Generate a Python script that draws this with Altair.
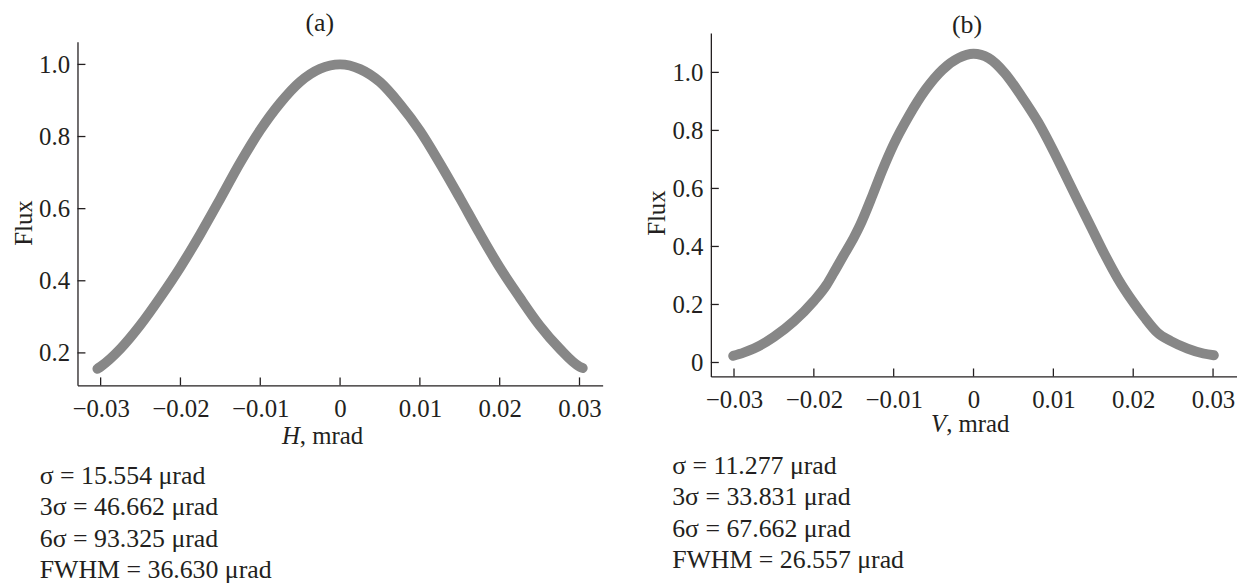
import altair as alt
import pandas as pd

FONT = "Liberation Serif"
INK = "#231f20"
CURVE = "#878787"

# ---------------- data ----------------
h_pos = [-0.0304, -0.0300, -0.0275, -0.0250, -0.0225, -0.0200, -0.0175, -0.0150,
         -0.0125, -0.0100, -0.0075, -0.0050, -0.0025, 0.0000, 0.0025, 0.0050,
         0.0075, 0.0100, 0.0125, 0.0150, 0.0175, 0.0200, 0.0225, 0.0250,
         0.0275, 0.0300, 0.0304]
h_flux = [0.156, 0.162, 0.212, 0.278, 0.355, 0.438, 0.530, 0.628,
          0.728, 0.818, 0.893, 0.952, 0.988, 1.000, 0.987, 0.951,
          0.890, 0.816, 0.726, 0.630, 0.531, 0.437, 0.354, 0.276,
          0.212, 0.162, 0.158]

v_pos = [-0.0301, -0.0288, -0.0275, -0.0250, -0.0225, -0.0200, -0.0184, -0.0175,
         -0.0163, -0.0150, -0.0143, -0.0126, -0.0114, -0.0100, -0.0081, -0.0060,
         -0.0039, -0.0019, 0.0000, 0.0019, 0.0039, 0.0060, 0.0081, 0.0100,
         0.0114, 0.0131, 0.0147, 0.0164, 0.0181, 0.0200, 0.0214, 0.0230,
         0.0247, 0.0268, 0.0288, 0.0301]
v_flux = [0.023, 0.034, 0.048, 0.088, 0.142, 0.212, 0.268, 0.310,
          0.368, 0.430, 0.468, 0.580, 0.664, 0.752, 0.850, 0.941,
          1.009, 1.049, 1.064, 1.049, 0.998, 0.918, 0.828, 0.730,
          0.652, 0.556, 0.468, 0.374, 0.288, 0.208, 0.156, 0.104,
          0.074, 0.048, 0.031, 0.025]

x_ticks = [-0.03, -0.02, -0.01, 0.0, 0.01, 0.02, 0.03]
y_ticks_a = [0.2, 0.4, 0.6, 0.8, 1.0]
y_ticks_b = [0.0, 0.2, 0.4, 0.6, 0.8, 1.0]

stats_a = ["σ = 15.554 μrad", "3σ = 46.662 μrad", "6σ = 93.325 μrad", "FWHM = 36.630 μrad"]
stats_b = ["σ = 11.277 μrad", "3σ = 33.831 μrad", "6σ = 67.662 μrad", "FWHM = 26.557 μrad"]


def panel(pos, flux, xdom, ydom, yrange, width, height, axis_y, yticks,
          title_x, title_y, panel_title, letter, junction, xt_base,
          stats, stats_x, stats_y):
    df = pd.DataFrame({"pos": pos, "flux": flux})
    one = pd.DataFrame({"k": [0]})

    x_enc = alt.X(
        "pos:Q",
        scale=alt.Scale(domain=xdom, nice=False, zero=False),
        axis=alt.Axis(values=x_ticks, format=".2~f", title=None, grid=False,
                      ticks=False, tickSize=0, labelFont=FONT, labelFontSize=25,
                      labelColor=INK, labelBaseline="alphabetic", labelPadding=31,
                      labelFlush=False, labelOverlap=False,
                      domainColor=INK, domainWidth=1.3),
    )
    yscale = dict(domain=ydom, nice=False, zero=False)
    if yrange is not None:
        yscale["range"] = yrange
    y_enc = alt.Y(
        "flux:Q",
        scale=alt.Scale(**yscale),
        axis=alt.Axis(values=yticks,
                      labelExpr="datum.value == 0 ? '0' : format(datum.value, '.1f')",
                      title="Flux", titleFont=FONT, titleFontSize=25,
                      titleFontWeight="normal", titleColor=INK, titleAngle=270,
                      titleX=title_x, titleY=title_y, titleBaseline="alphabetic",
                      titleAlign="center", grid=False, ticks=False, tickSize=0,
                      labelFont=FONT, labelFontSize=25, labelColor=INK,
                      labelPadding=8, labelAlign="right", labelBaseline="middle",
                      labelOverlap=False, labelFlush=False,
                      domainColor=INK, domainWidth=1.3),
    )

    curve = alt.Chart(df).mark_line(
        color=CURVE, strokeWidth=10, strokeCap="round", strokeJoin="round",
        interpolate="monotone",
    ).encode(x=x_enc, y=y_enc)

    xt = alt.Chart(pd.DataFrame({"pos": x_ticks})).mark_rule(
        color=INK, strokeWidth=1.3
    ).encode(x=x_enc, y=alt.value(axis_y), y2=alt.value(axis_y - 8))

    yt = alt.Chart(pd.DataFrame({"flux": yticks})).mark_rule(
        color=INK, strokeWidth=1.3
    ).encode(y=y_enc, x=alt.value(0), x2=alt.value(8))

    ttl = alt.Chart(one).mark_text(
        font=FONT, fontSize=26, color=INK, align="center", baseline="middle"
    ).encode(x=alt.value(panel_title[1]), y=alt.value(panel_title[2]),
             text=alt.value(panel_title[0]))

    let = alt.Chart(one).mark_text(
        font=FONT, fontSize=25, fontStyle="italic", color=INK, align="right",
        baseline="alphabetic"
    ).encode(x=alt.value(junction), y=alt.value(xt_base), text=alt.value(letter))

    rest = alt.Chart(one).mark_text(
        font=FONT, fontSize=25, color=INK, align="left", baseline="alphabetic"
    ).encode(x=alt.value(junction), y=alt.value(xt_base), text=alt.value(", mrad"))

    st = alt.Chart(one).mark_text(
        font=FONT, fontSize=26, color=INK, align="left", baseline="alphabetic",
        lineHeight=31.7
    ).encode(x=alt.value(stats_x), y=alt.value(stats_y), text=alt.value(stats))

    return alt.layer(curve, xt, yt, ttl, let, rest, st).properties(
        width=width, height=height)


pa = panel(h_pos, h_flux, [-0.0329, 0.0329], [0.110, 1.0625], [355, 9], 529, 355, 355,
           y_ticks_a, -46, 191, ("(a)", 244, -10), "H", 224, 414,
           stats_a, -38, 454)
pb = panel(v_pos, v_flux, [-0.0329, 0.0330], [-0.048, 1.136], None, 530, 346, 346,
           y_ticks_b, -47, 181, ("(b)", 258, -8), "V", 237, 402,
           stats_b, -39, 444)

chart = alt.hconcat(pa, pb, spacing=42).properties(
    padding={"left": 4, "top": 0, "right": 0, "bottom": 0}
).configure_view(stroke=None).configure_axis(
    labelFont=FONT, labelFontSize=25, labelColor=INK,
    titleFont=FONT, titleFontSize=25, titleFontWeight="normal", titleColor=INK,
)

chart.save("out.html", embed_options={"renderer": "svg", "actions": False})
